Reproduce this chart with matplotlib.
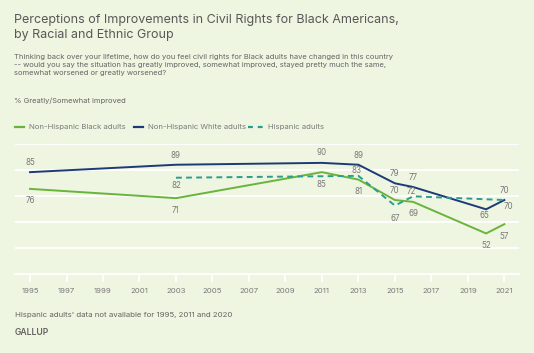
import matplotlib
matplotlib.use("Agg")
import matplotlib.pyplot as plt

plt.rcParams['font.family'] = ['Inter', 'DejaVu Sans']

# ---- data ----
black_years = [1995, 2003, 2011, 2013, 2015, 2016, 2020, 2021]
black_vals = [76, 71, 85, 81, 70, 69, 52, 57]
white_years = [1995, 2003, 2011, 2013, 2015, 2016, 2020, 2021]
white_vals = [85, 89, 90, 89, 79, 77, 65, 70]
hisp_years = [2003, 2013, 2015, 2016, 2021]
hisp_vals = [82, 83, 67, 72, 70]
tick_years = list(range(1995, 2022, 2))

series_names = ["Non-Hispanic Black adults", "Non-Hispanic White adults", "Hispanic adults"]

title = "Perceptions of Improvements in Civil Rights for Black Americans,\nby Racial and Ethnic Group"
subtitle = ("Thinking back over your lifetime, how do you feel civil rights for Black adults have changed in this country\n"
            "-- would you say the situation has greatly improved, somewhat improved, stayed pretty much the same,\n"
            "somewhat worsened or greatly worsened?")
measure = "% Greatly/Somewhat improved"
note = "Hispanic adults' data not available for 1995, 2011 and 2020"
source = "GALLUP"

# ---- style ----
BG = "#EEF5E0"
GREEN = "#6AB43E"
NAVY = "#1D3A78"
TEAL = "#2A9D8F"
GRAY = "#7A7A7A"
DARK = "#646464"

W, H = 534, 353
fig = plt.figure(figsize=(W / 100, H / 100), dpi=100, facecolor=BG)
ax = fig.add_axes([14.7 / W, 1 - 274.3 / H, (519.3 - 14.7) / W, (274.3 - 144.3) / H])
ax.set_facecolor(BG)
ax.set_xlim(1994.16, 2021.82)
ax.set_ylim(30, 100)
ax.set_yticks([44, 58, 72, 86, 100])
ax.yaxis.grid(True, color="white", linewidth=1.3)
ax.set_axisbelow(True)
ax.tick_params(axis='y', left=False, labelleft=False)
for s in ["top", "right", "left"]:
    ax.spines[s].set_visible(False)
ax.spines["bottom"].set_color("white")
ax.spines["bottom"].set_linewidth(1.3)
ax.set_xticks(tick_years)
ax.set_xticklabels([str(y) for y in tick_years])
ax.tick_params(axis='x', colors="white", length=6, width=1.3, pad=4,
               labelcolor=GRAY, labelsize=5.6)

ax.plot(black_years, black_vals, color=GREEN, lw=1.4, solid_joinstyle='miter')
ax.plot(white_years, white_vals, color=NAVY, lw=1.4, solid_joinstyle='miter')
ax.plot(hisp_years, hisp_vals, color=TEAL, lw=1.4, dashes=(3, 2.2))

# label offsets in pixels (dx, dy), positive dy = up
black_off = [(0, -12), (0, -12), (0, -12), (0, -12), (0, 10), (0, -12), (0, -12.5), (0, -12.5)]
white_off = [(0, 9.5), (0, 9.7), (0, 10), (0, 9.7), (0, 10), (0, 10), (-2, -6), (4, -6)]
hisp_off = [(0, -7.3), (-2, 5), (0, -12.7), (-2, 4.6), (0, 10)]

def label(xs, ys, offs):
    for x, y, (dx, dy) in zip(xs, ys, offs):
        ax.annotate(str(y), (x, y), xytext=(dx, dy), textcoords='offset pixels',
                    ha='center', va='center', fontsize=5.8, color=GRAY)

label(black_years, black_vals, black_off)
label(white_years, white_vals, white_off)
label(hisp_years, hisp_vals, hisp_off)

# ---- text ----
fig.text(14.3 / W, 1 - 13.5 / H, title, ha='left', va='top', fontsize=9.0,
         color="#585858", linespacing=1.38)
fig.text(14.3 / W, 1 - 54 / H, subtitle, ha='left', va='top', fontsize=5.45,
         color=DARK, linespacing=1.45)
fig.text(14.3 / W, 1 - 100.7 / H, measure, ha='left', va='center', fontsize=5.45, color=DARK)

# legend
ly = 1 - 127.3 / H
def leg(x0, x1, tx, color, name, dashed=False):
    if dashed:
        fig.add_artist(plt.Line2D([x0 / W, x1 / W], [ly, ly], color=color, lw=1.6,
                                  dashes=(2.2, 2.2), transform=fig.transFigure))
    else:
        fig.add_artist(plt.Line2D([x0 / W, x1 / W], [ly, ly], color=color, lw=1.6,
                                  transform=fig.transFigure))
    fig.text(tx / W, ly, name, ha='left', va='center', fontsize=5.6, color=GRAY)

leg(15, 24.3, 29, GREEN, series_names[0])
leg(133.7, 143.3, 147.7, NAVY, series_names[1])
leg(248.3, 263.3, 267.7, TEAL, series_names[2], dashed=True)

fig.text(14.7 / W, 1 - 315.2 / H, note, ha='left', va='center', fontsize=5.65, color=DARK)
fig.text(14.7 / W, 1 - 332.3 / H, source, ha='left', va='center', fontsize=6.2,
         color=DARK, fontweight='semibold')

fig.savefig("out.png", dpi=100, facecolor=BG)
